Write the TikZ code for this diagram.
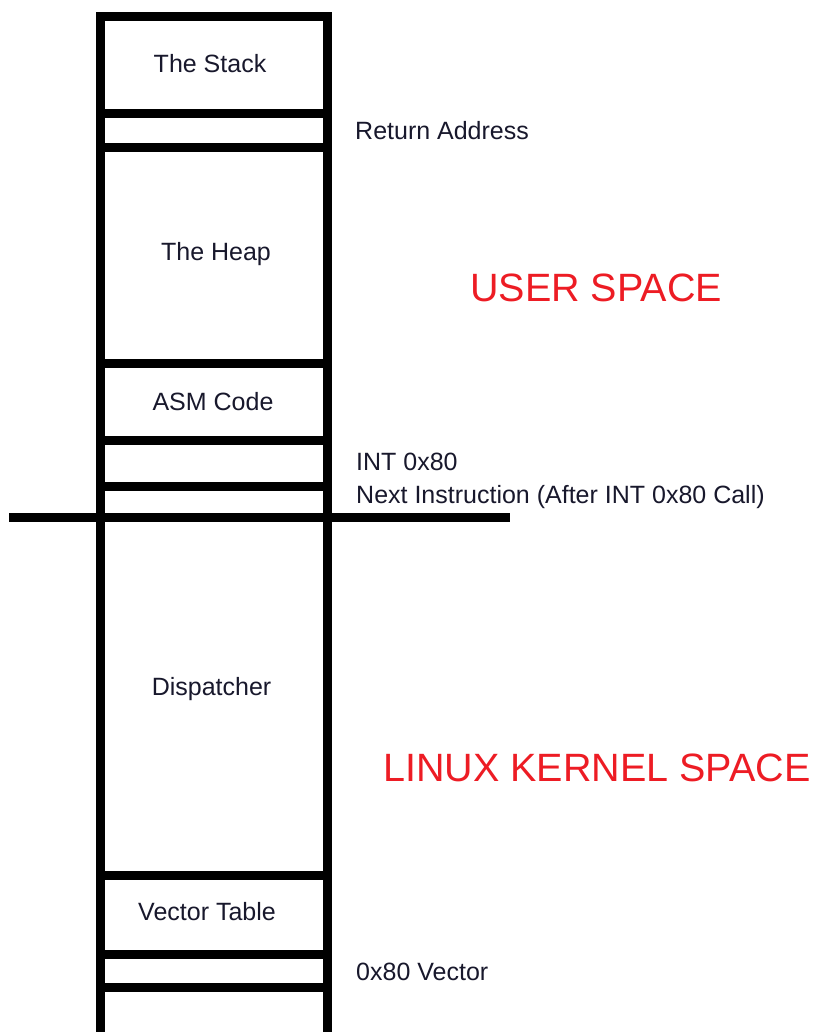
\documentclass[tikz,border=0pt]{standalone}
\usepackage{fontspec}
\setmainfont{Liberation Sans}
\definecolor{txt}{RGB}{24,24,44}
\definecolor{paintred}{RGB}{237,28,36}
\tikzset{
  x=1pt, y=-1pt,
  wall/.style={line width=9pt, black, line join=miter, line cap=butt},
  lbl/.style={anchor=base, inner sep=0pt, text=txt, font=\fontsize{25}{30}\selectfont},
  side/.style={anchor=base west, inner sep=0pt, text=txt, font=\fontsize{25}{30}\selectfont},
  space/.style={anchor=base west, inner sep=0pt, text=paintred, font=\fontsize{39.5}{46}\selectfont}
}
\begin{document}
\begin{tikzpicture}
\useasboundingbox[fill=white] (0,0) rectangle (814,1032);
% column coordinates
\coordinate (bl) at (100.5,1032);
\coordinate (tl) at (100.5,16.2);
\coordinate (tr) at (327,16.2);
\coordinate (br) at (327,1032);
\draw[wall] (bl) -- (tl) -- (tr) -- (br);
% dividers
\foreach \y in {113.5,147.2,363,440,486.5,875.3,954,987}
  \draw[wall] (100.5,\y) -- (327,\y);
% user/kernel boundary
\coordinate (bndL) at (9,517);
\coordinate (bndR) at (510,517);
\draw[wall] (bndL) -- (bndR);
% compartment labels
\node[lbl] (stack) at (210,73) {The Stack};
\node[lbl] (heap) at (216,260) {The Heap};
\node[lbl] (asm) at (213,410) {ASM Code};
\node[lbl] (disp) at (211.5,695) {Dispatcher};
\node[lbl] (vtab) at (207,920.5) {Vector Table};
% side labels
\node[side] (ret) at (355,140) {Return Address};
\node[side] (int) at (356,470) {INT 0x80};
\node[side] (next) at (356,503.3) {Next Instruction (After INT 0x80 Call)};
\node[side] (vec) at (356,980) {0x80 Vector};
% region labels
\node[space] (user) at (470,301.7) {USER SPACE};
\node[space] (kern) at (383,781.7) {LINUX KERNEL SPACE};
\end{tikzpicture}
\end{document}
